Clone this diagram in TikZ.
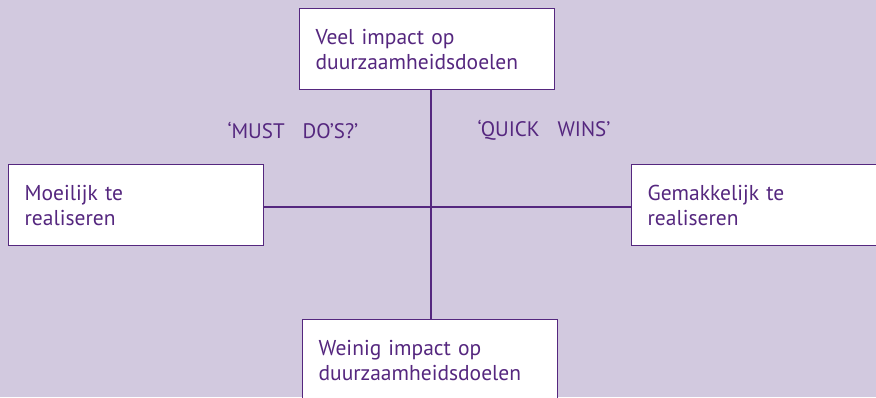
\documentclass[tikz,border=0pt]{standalone}
\usepackage{fontspec}
\setmainfont{PT Sans}
\definecolor{bgpurple}{HTML}{D2C9DF}
\definecolor{inkpurple}{HTML}{55277F}
\begin{document}
\begin{tikzpicture}[x=1pt,y=-1pt,
  axisbox/.style={draw=inkpurple,line width=1.3pt,fill=white,anchor=north west,
    minimum width=255pt,minimum height=81pt,inner xsep=16pt,inner ysep=0pt,
    text width=223pt,align=left,font=\fontsize{21.5}{25}\selectfont,text=inkpurple},
  quadlabel/.style={font=\fontsize{21}{24}\selectfont,text=inkpurple,anchor=west},
  axis/.style={draw=inkpurple,line width=1.3pt}]
  \fill[bgpurple] (0,0) rectangle (876,397);
  \useasboundingbox (0,0) rectangle (876,397);
  \clip (0,0) rectangle (876,397);
  % four boxes round the cross
  \node[axisbox] (high) at (299,8) {Veel impact op\\duurzaamheidsdoelen};
  \node[axisbox] (hard) at (8,164) {Moeilijk te\\realiseren};
  \node[axisbox] (easy) at (631,164) {Gemakkelijk te\\realiseren};
  \node[axisbox] (low) at (302,319) {Weinig impact op\\duurzaamheidsdoelen};
  % axes
  \coordinate (vt) at (431,89);
  \coordinate (vb) at (431,319);
  \coordinate (hl) at (263,207);
  \coordinate (hr) at (631,207);
  \draw[axis] (vt) -- (vb);
  \draw[axis] (hl) -- (hr);
  % quadrant labels
  \node[quadlabel] (must) at (224,130) {‘MUST\hspace{0.85em}DO’S?’};
  \node[quadlabel] (quick) at (474,130) {‘QUICK\hspace{0.85em}WINS’};
\end{tikzpicture}
\end{document}
